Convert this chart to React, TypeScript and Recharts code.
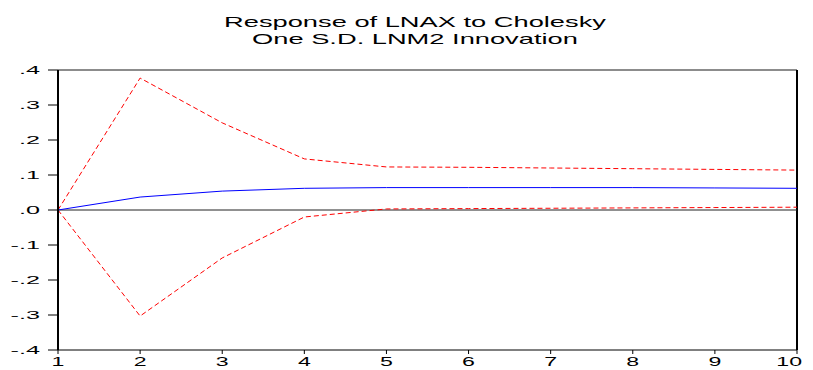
import React from "react";
import { LineChart, Line, XAxis, YAxis, ReferenceLine } from "recharts";

const periods = [1, 2, 3, 4, 5, 6, 7, 8, 9, 10];
const response = [0, 0.037, 0.054, 0.062, 0.064, 0.064, 0.064, 0.064, 0.063, 0.062];
const upperBand = [0, 0.377, 0.249, 0.146, 0.123, 0.122, 0.12, 0.118, 0.116, 0.114];
const lowerBand = [0, -0.303, -0.137, -0.02, 0.003, 0.004, 0.005, 0.006, 0.007, 0.008];
const yTicks = [-0.4, -0.3, -0.2, -0.1, 0, 0.1, 0.2, 0.3, 0.4];
const titleLines = ["Response of LNAX to Cholesky", "One S.D. LNM2 Innovation"];

const data = periods.map((p, i) => ({
  p,
  response: response[i],
  upper: upperBand[i],
  lower: lowerBand[i],
}));

const fmtY = (v: number) => {
  if (Math.abs(v) < 1e-9) return ".0";
  return v.toFixed(1).replace("0.", ".");
};

const font = "Liberation Sans, Arial, sans-serif";
const Y_STRETCH = 2.4;
const X_STRETCH = 1.85;
const TITLE_STRETCH = 1.88;

const YTick = (props: any) => {
  const { x, y, payload } = props;
  return (
    <g transform={`translate(${x},${y})`}>
      <text transform={`scale(${Y_STRETCH},1)`} textAnchor="end" dy="0.36em" fontSize={10.5} fontFamily={font} fill="#000">
        {fmtY(payload.value)}
      </text>
    </g>
  );
};

const XTick = (props: any) => {
  const { x, y, payload, index } = props;
  const last = index === periods.length - 1;
  return (
    <g transform={`translate(${x},${y})`}>
      <text
        transform={`scale(${X_STRETCH},1)`}
        textAnchor={last ? "end" : "middle"}
        dx={last ? 5 / X_STRETCH : 0}
        dy="0.71em"
        fontSize={12.5}
        fontFamily={font}
        fill="#000"
      >
        {String(payload.value)}
      </text>
    </g>
  );
};

export default function App() {
  return (
    <div style={{ position: "absolute", left: 0, top: 0, width: 813, height: 370, background: "#fff" }}>
      <div
        style={{
          position: "absolute",
          left: 115,
          top: 14,
          width: 600,
          textAlign: "center",
          fontFamily: font,
          fontSize: 14.5,
          lineHeight: "16.6px",
          color: "#000",
          transform: `scaleX(${TITLE_STRETCH})`,
          transformOrigin: "300px 0",
        }}
      >
        {titleLines.map((t) => (
          <div key={t}>{t}</div>
        ))}
      </div>
      <LineChart width={813} height={370} data={data} margin={{ top: 70, right: 16, bottom: 0, left: 0 }}>
        <XAxis
          dataKey="p"
          type="number"
          domain={[1, 10]}
          ticks={periods}
          height={20}
          interval={0}
          axisLine={{ stroke: "#000", strokeWidth: 1 }}
          tickLine={{ stroke: "#000" }}
          tickSize={4}
          tickMargin={3}
          tick={<XTick />}
        />
        <YAxis
          domain={[-0.4, 0.4]}
          ticks={yTicks}
          width={58}
          interval={0}
          axisLine={{ stroke: "#000", strokeWidth: 2 }}
          tickLine={{ stroke: "#000" }}
          tickSize={10}
          tickMargin={8}
          tick={<YTick />}
        />
        <ReferenceLine y={0.4} stroke="#666" strokeWidth={1.5} />
        <ReferenceLine x={10} stroke="#000" strokeWidth={2} />
        <ReferenceLine y={0} stroke="#222" strokeWidth={1} />
        <Line dataKey="upper" stroke="#ff0000" strokeWidth={1} strokeDasharray="5 3" dot={false} isAnimationActive={false} />
        <Line dataKey="lower" stroke="#ff0000" strokeWidth={1} strokeDasharray="5 3" dot={false} isAnimationActive={false} />
        <Line dataKey="response" stroke="#0000ff" strokeWidth={1} dot={false} isAnimationActive={false} />
      </LineChart>
    </div>
  );
}
